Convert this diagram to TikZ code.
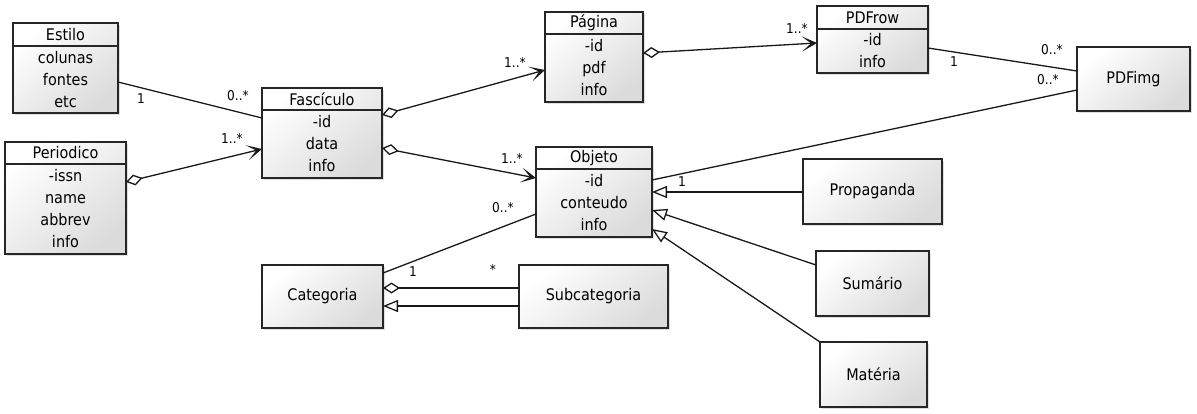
\documentclass[tikz,border=0pt]{standalone}
\usepackage{fontspec}
\setmainfont{DejaVu Sans}[FakeStretch=0.9]
\usetikzlibrary{arrows.meta,shadows}
\newcommand\umlclass[8]{%
  \node[box, minimum width={#4-#2}, minimum height={#5-#3}, anchor=north west] (#1) at (#2,-#3) {};
  \draw[boxline] (#2,-#6) -- (#4,-#6);
  \node[hdr] at ({(#2+#4)/2},{-(#3+#6)/2}) {#7};
  \node[attr] at ({(#2+#4)/2},{-(#6+#5)/2}) {#8};
}
\newcommand\umlsimple[6]{%
  \node[box, minimum width={#4-#2}, minimum height={#5-#3}, anchor=north west] (#1) at (#2,-#3) {};
  \node[hdr] at ({(#2+#4)/2},{-(#3+#5)/2}) {#6};
}
\begin{document}
\begin{tikzpicture}[x=1pt,y=1pt,
  box/.style={draw=black!85, line width=1.3pt, inner sep=0pt, outer sep=0pt,
    top color=white, bottom color=black!14, shading angle=40,
    drop shadow={shadow xshift=2pt,shadow yshift=-2pt,opacity=0.25}},
  boxline/.style={draw=black!85, line width=1.2pt},
  hdr/.style={font=\fontsize{16}{18}\selectfont, inner sep=0pt},
  attr/.style={font=\fontsize{16}{22}\selectfont, align=center, inner sep=0pt},
  lab/.style={font=\fontsize{13.5}{15}\selectfont, inner sep=0pt},
  conn/.style={line width=1.3pt, black!90},
  agg/.style={conn, {Diamond[open,length=17pt,width=11pt]}-{Stealth[length=15pt,width=15pt,inset=9pt]}},
  gen/.style={conn, -{Triangle[open,length=15pt,width=12pt]}},
]
\fill[white] (0,0) rectangle (1197,-413);
\useasboundingbox (0,0) rectangle (1197,-413);

\umlclass{estilo}{13}{23}{118}{113}{46}{Estilo}{colunas\\fontes\\etc}
\umlclass{fasc}{262}{88}{382}{178}{110}{Fascículo}{-id\\data\\info}
\umlclass{peri}{5}{142}{126}{254}{164}{Periodico}{-issn\\name\\abbrev\\info}
\umlclass{pag}{545}{12}{643}{102}{34}{Página}{-id\\pdf\\info}
\umlclass{row}{817}{6}{928}{73}{29}{PDFrow}{-id\\info}
\umlclass{obj}{536}{147}{652}{237}{169}{Objeto}{-id\\conteudo\\info}
\umlsimple{img}{1077}{47}{1190}{111}{PDFimg}
\umlsimple{prop}{803}{159}{942}{224}{Propaganda}
\umlsimple{sum}{816}{251}{929}{316}{Sumário}
\umlsimple{mat}{820}{342}{927}{407}{Matéria}
\umlsimple{cat}{262}{265}{383}{328}{Categoria}
\umlsimple{sub}{519}{265}{668}{328}{Subcategoria}

% associations
\draw[conn] ([yshift=-59pt]estilo.north east) -- ([yshift=-30pt]fasc.north west);
\node[lab] at (141,-99) {1};
\node[lab] at (238,-96) {0..*};

\draw[agg] ([yshift=-40pt]peri.north east) -- ([yshift=-61pt]fasc.north west);
\node[lab] at (232,-138) {1..*};

\draw[agg] ([yshift=-27pt]fasc.north east) -- ([yshift=-58pt]pag.north west);
\node[lab] at (515,-62) {1..*};

\draw[agg] ([yshift=-60pt]fasc.north east) -- ([yshift=-31pt]obj.north west);
\node[lab] at (512,-158) {1..*};

\draw[agg] ([yshift=-41pt]pag.north east) -- ([yshift=-37pt]row.north west);
\node[lab] at (797,-28) {1..*};

\draw[conn] ([yshift=-42pt]row.north east) -- ([yshift=-24pt]img.north west);
\node[lab] at (954,-62) {1};
\node[lab] at (1052,-50) {0..*};

\draw[conn] ([yshift=-33pt]obj.north east) -- ([yshift=-43pt]img.north west);
\node[lab] at (1048,-80) {0..*};

% generalizations
\draw[gen] ([yshift=-33pt]prop.north west) -- ([yshift=-45pt]obj.north east);
\node[lab] at (682,-182) {1};
\draw[gen] ([yshift=-14pt]sum.north west) -- ([yshift=-63pt]obj.north east);
\draw[gen] (mat.north west) -- ([yshift=-82pt]obj.north east);

% categoria
\draw[conn] ([yshift=-8pt]cat.north east) -- ([yshift=-67pt]obj.north west);
\node[lab] at (413,-272) {1};
\node[lab] at (503,-208) {0..*};

\draw[conn, {Diamond[open,length=17pt,width=11pt]}-] ([yshift=-23pt]cat.north east) -- ([yshift=-23pt]sub.north west);
\node[lab] at (493,-269) {*};
\draw[gen] ([yshift=-41pt]sub.north west) -- ([yshift=-41pt]cat.north east);
\end{tikzpicture}
\end{document}
